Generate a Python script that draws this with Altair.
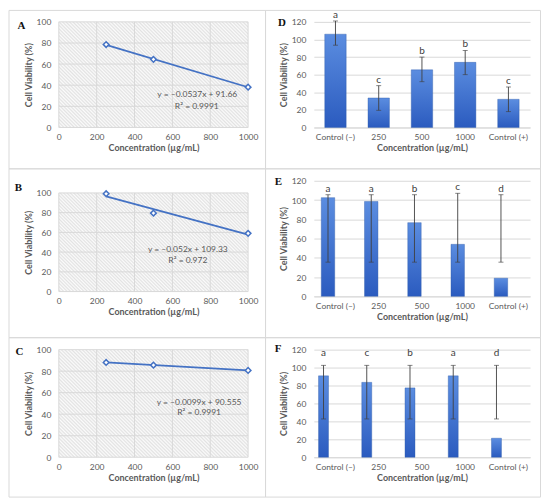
import altair as alt
import pandas as pd

FONT = "Lato"
GRAY = "#595959"
GRID = "#d9d9d9"
BLUE = "#4472C4"

# ---- line panels (A, B, C) ----
conc = [250, 500, 1000]
via_A = [78.5, 64.5, 38.2]
via_B = [99.2, 79.5, 59.0]
via_C = [88.1, 85.6, 80.7]
eq_A = ["y = –0.0537x + 91.66", "R² = 0.9991"]
eq_B = ["y = –0.052x + 109.33", "R² = 0.972"]
eq_C = ["y = –0.0099x + 90.555", "R² = 0.9991"]
x_ticks_line = [0, 200, 400, 600, 800, 1000]
y_ticks_line = [0, 20, 40, 60, 80, 100]

# ---- bar panels (D, E, F) ----
groups = ["Control (–)", "250", "500", "1000", "Control (+)"]
mean_D = [106, 33.5, 65.5, 74, 32]
lo_D = [93.5, 19.5, 52, 60, 18]
hi_D = [121, 47.5, 80, 87.5, 46]
let_D = ["a", "c", "b", "b", "c"]

mean_E = [102.5, 98.5, 76.5, 54, 18.8]
lo_E = [35.5, 35.5, 35.5, 35.5, 35.5]
hi_E = [105.5, 105.5, 105.5, 107, 105.5]
let_E = ["a", "a", "b", "c", "d"]

mean_F = [90.8, 83.5, 77.3, 90.8, 21.2]
lo_F = [42.7, 42.7, 42.7, 42.7, 42.7]
hi_F = [102.5, 102.5, 102.5, 102.5, 102.5]
let_F = ["a", "c", "b", "a", "d"]
y_ticks_bar = [0, 20, 40, 60, 80, 100, 120]

TITLE_X = "Concentration (µg/mL)"
TITLE_Y = "Cell Viability (%)"
W1, W2 = 190, 217


def frame_layer(x1, x2, y1, y2):
    return alt.Chart(alt.Data(values=[{}])).mark_rect(
        fillOpacity=0, stroke=GRID, strokeWidth=1
    ).encode(x=alt.value(x1), x2=alt.value(x2), y=alt.value(y1), y2=alt.value(y2))


def text_layer(txt, x, y, **kw):
    return alt.Chart(alt.Data(values=[{}])).mark_text(text=txt, **kw).encode(
        x=alt.value(x), y=alt.value(y)
    )


def letter_layer(letter, x, y):
    return text_layer(letter, x, y, font="Liberation Serif", fontSize=11,
                      fontWeight="bold", color="#111111", align="center",
                      baseline="middle")


def line_panel(letter, via, eq, h, frame, lpos, epos, yrange=None):
    df = pd.DataFrame({"conc": conc, "via": via})
    ph = (yrange[0] - yrange[1]) if yrange else h
    r = ph / W1
    s = (1 + r) / (1 + r * r)
    n = 85
    stops = []
    for k in range(n):
        stops.append(alt.GradientStop(color="#fbfbfb", offset=k / n))
        stops.append(alt.GradientStop(color="#e2e2e2", offset=(k + 0.5) / n))
    stops.append(alt.GradientStop(color="#fbfbfb", offset=1))
    hatch = alt.Gradient(gradient="linear", stops=stops, x1=0, y1=1, x2=s, y2=1 - s * r)

    xs = alt.Scale(domain=[0, 1000], nice=False)
    ys = alt.Scale(domain=[0, 100], range=list(yrange)) if yrange else alt.Scale(domain=[0, 100])
    xa = alt.Axis(values=x_ticks_line, format="d", grid=False, ticks=False, domain=False,
                  labelFlush=False, labelPadding=5, titlePadding=3)
    ya = alt.Axis(values=y_ticks_line, format="d", grid=False, ticks=False, domain=False,
                  labelFlush=False, labelPadding=8, titlePadding=3)

    bgdf = pd.DataFrame({"x0": [0], "x1": [1000], "y0": [0], "y1": [100]})
    bg = alt.Chart(bgdf).mark_rect(fill=hatch).encode(
        x=alt.X("x0:Q", scale=xs, axis=xa, title=TITLE_X), x2="x1",
        y=alt.Y("y0:Q", scale=ys, axis=ya, title=TITLE_Y), y2="y1")
    vg = alt.Chart(pd.DataFrame({"gx": x_ticks_line, "g0": 0, "g1": 100})).mark_rule(
        color=GRID, strokeWidth=1).encode(
        x=alt.X("gx:Q", scale=xs, axis=xa, title=TITLE_X),
        y=alt.Y("g0:Q", scale=ys, axis=ya, title=TITLE_Y), y2="g1")
    hg = alt.Chart(pd.DataFrame({"gy": y_ticks_line, "h0": 0, "h1": 1000})).mark_rule(
        color=GRID, strokeWidth=1).encode(
        y=alt.Y("gy:Q", scale=ys, axis=ya, title=TITLE_Y),
        x=alt.X("h0:Q", scale=xs, axis=xa, title=TITLE_X), x2="h1")
    base = alt.Chart(df)
    enc = dict(x=alt.X("conc:Q", scale=xs, axis=xa, title=TITLE_X),
               y=alt.Y("via:Q", scale=ys, axis=ya, title=TITLE_Y))
    line = base.transform_regression("conc", "via").mark_line(
        color=BLUE, strokeWidth=1.8).encode(**enc)
    pts = base.mark_point(shape="diamond", filled=True, fill="white", stroke=BLUE,
                          strokeWidth=1.5, size=32, opacity=1).encode(**enc)
    t1 = text_layer(eq[0], epos[0][0], epos[0][1], font=FONT, fontSize=8.5,
                    color=GRAY, align="center", baseline="middle")
    t2 = text_layer(eq[1], epos[1][0], epos[1][1], font=FONT, fontSize=8.5,
                    color=GRAY, align="center", baseline="middle")
    return alt.layer(bg, vg, hg, line, pts, t1, t2,
                     letter_layer(letter, *lpos), frame_layer(*frame)).properties(
        width=W1, height=h)


def bar_panel(letter, mean, lo, hi, lets, h, bw, off, ldy, frame, lpos):
    df = pd.DataFrame({"g": groups, "m": mean, "lo": lo, "hi": hi, "lab": lets})
    grad = alt.Gradient(gradient="linear", x1=0, y1=0, x2=0, y2=1, stops=[
        alt.GradientStop(color="#5b8de0", offset=0),
        alt.GradientStop(color="#2b5bbf", offset=1)])
    xs = alt.Scale(domain=groups, paddingInner=0, paddingOuter=0)
    ys = alt.Scale(domain=[0, 120])
    xa = alt.Axis(labelAngle=0, ticks=False, domain=True, domainColor=GRID,
                  grid=False, labelPadding=5, titlePadding=3)
    ya = alt.Axis(values=y_ticks_bar, format="d", grid=True, gridColor=GRID, ticks=False,
                  domain=False, labelFlush=False, labelPadding=8, titlePadding=3)
    X = alt.X("g:N", scale=xs, axis=xa, title=TITLE_X, sort=groups)
    base = alt.Chart(df)
    bars = base.mark_bar(color=grad, width=bw, xOffset=off, stroke="#2e5aa8",
                         strokeWidth=0.4).encode(
        x=X, y=alt.Y("m:Q", scale=ys, axis=ya, title=TITLE_Y))
    rule = base.mark_rule(color="#404040", strokeWidth=0.9, xOffset=off).encode(
        x=X, y=alt.Y("lo:Q", scale=ys, axis=ya, title=TITLE_Y), y2="hi")
    cap_lo = base.mark_tick(color="#404040", thickness=0.9, size=5, xOffset=off).encode(
        x=X, y=alt.Y("lo:Q", scale=ys, axis=ya, title=TITLE_Y))
    cap_hi = base.mark_tick(color="#404040", thickness=0.9, size=5, xOffset=off).encode(
        x=X, y=alt.Y("hi:Q", scale=ys, axis=ya, title=TITLE_Y))
    lab = base.mark_text(baseline="alphabetic", dy=ldy, xOffset=off, font=FONT,
                         fontSize=10, color="#404040", align="center").encode(
        x=X, y=alt.Y("hi:Q", scale=ys, axis=ya, title=TITLE_Y), text="lab:N")
    return alt.layer(bars, rule, cap_lo, cap_hi, lab,
                     letter_layer(letter, *lpos), frame_layer(*frame)).properties(
        width=W2, height=h)


A = line_panel("A", via_A, eq_A, 106, (-50, 207.5, -11.5, 147.5), (-37.5, 4),
               ((139, 72), (138.5, 84)))
B = line_panel("B", via_B, eq_B, 111.2, (-50, 207.5, -12, 157.5), (-40.5, 7.5),
               ((129.5, 68.2), (129.5, 79.5)), yrange=(111.2, 12.2))
C = line_panel("C", via_C, eq_C, 108, (-50, 207.5, -12, 148), (-39.5, 2.7),
               ((140.8, 52.7), (140.8, 62.7)))
D = bar_panel("D", mean_D, lo_D, hi_D, let_D, 106, 21.5, 0, -3,
              (-48.5, 227.5, -11.5, 147.5), (-32, 0.7))
E = bar_panel("E", mean_E, lo_E, hi_E, let_E, 116, 13.5, -7.5, -3,
              (-48.5, 227.5, -12, 157.5), (-35.5, 1.5))
F = bar_panel("F", mean_F, lo_F, hi_F, let_F, 108, 10, -12, -9.5,
              (-48.5, 227.5, -12, 148), (-36, -1))

chart = alt.concat(A, D, B, E, C, F, columns=2,
                   spacing={"row": 53.5, "column": 66},
                   bounds="flush", align="each").properties(
    padding=0
).configure_view(stroke="transparent").configure_axis(
    labelFont=FONT, labelFontSize=8.5, labelColor=GRAY,
    titleFont=FONT, titleFontSize=9, titleFontWeight="bold", titleColor=GRAY
)

chart.save("out.html", embed_options={"renderer": "svg", "actions": False})
